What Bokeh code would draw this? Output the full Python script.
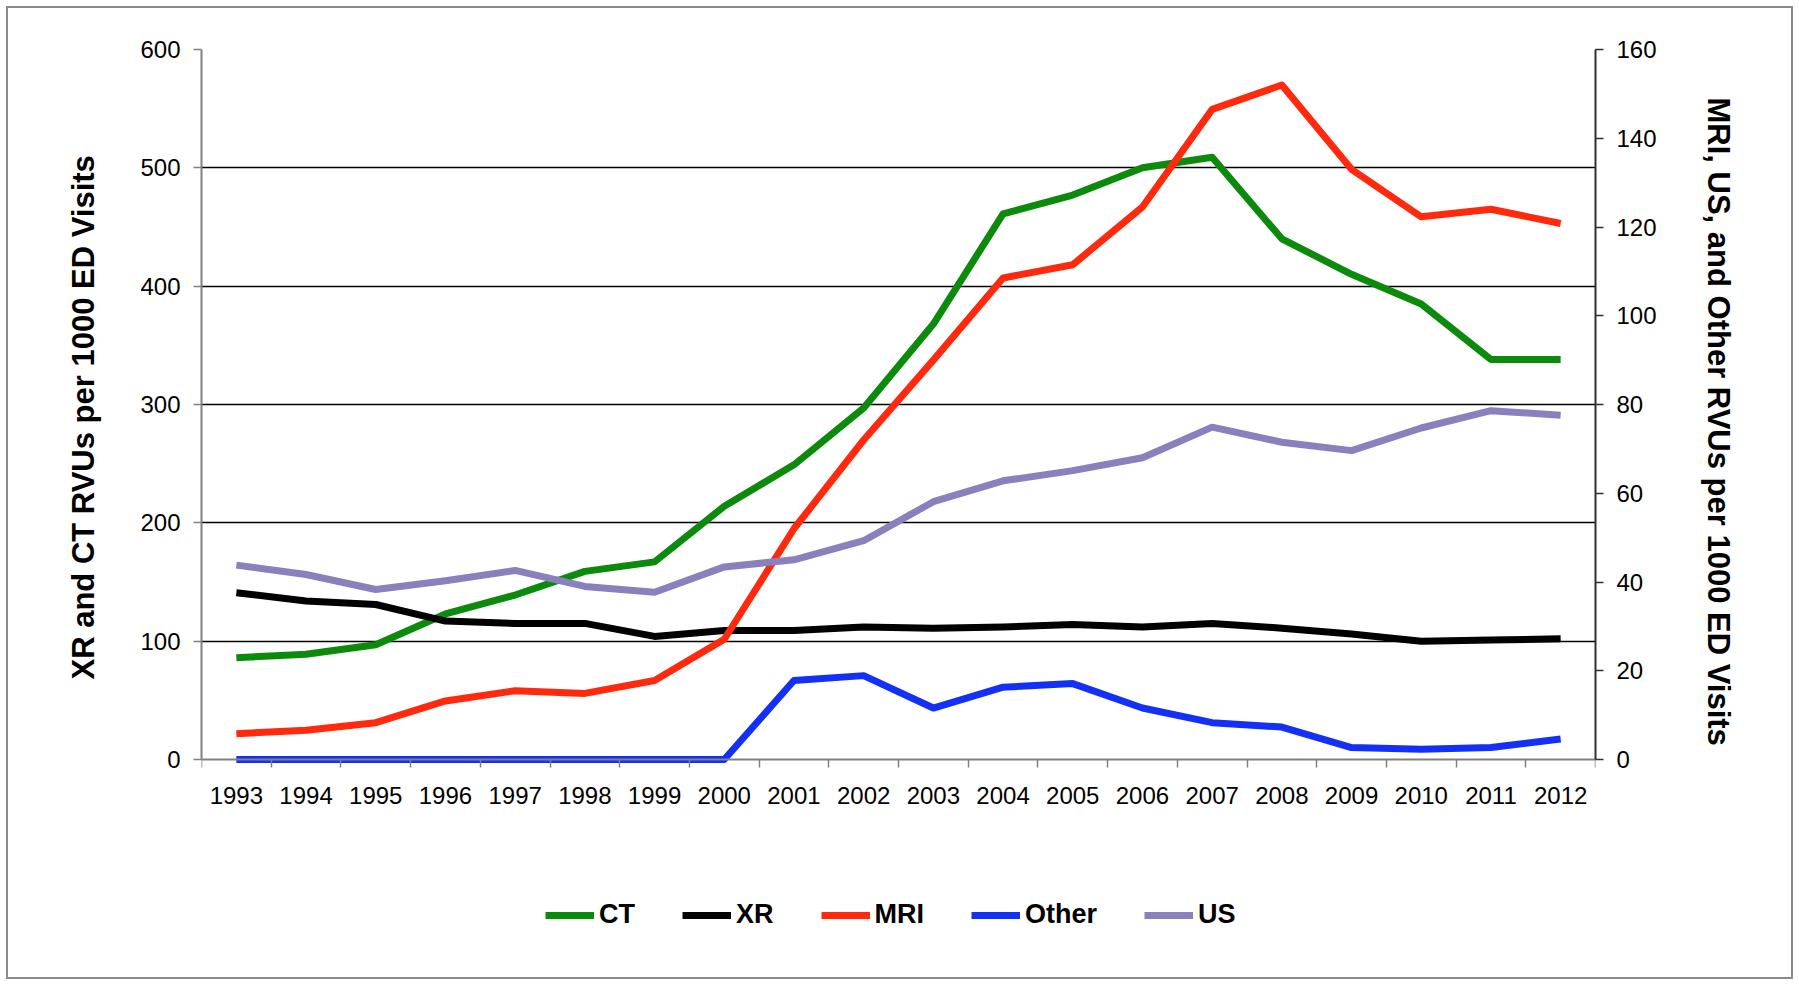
from bokeh.plotting import figure
from bokeh.models import Range1d, LinearAxis, FixedTicker, Legend, LegendItem, Title
from bokeh.embed import file_html
from bokeh.resources import INLINE

# ---- data ----
years = list(range(1993, 2013))
ct = [86, 89, 97, 123, 139, 159, 167, 214, 249, 297, 368, 461, 477, 500, 509, 440, 410, 385, 338, 338]
xr = [141, 134, 131, 117, 115, 115, 104, 109, 109, 112, 111, 112, 114, 112, 115, 111, 106, 100, 101, 102]
mri = [5.8, 6.6, 8.3, 13.2, 15.5, 14.9, 17.8, 27.1, 52.0, 72.0, 90.0, 108.5, 111.5, 124.5, 146.5, 152.0, 133.0, 122.3, 124.0, 120.8]
other = [0, 0, 0, 0, 0, 0, 0, 0, 17.8, 18.9, 11.6, 16.3, 17.1, 11.6, 8.3, 7.3, 2.7, 2.3, 2.7, 4.6]
us = [43.8, 41.7, 38.3, 40.3, 42.6, 39.0, 37.7, 43.4, 45.0, 49.3, 58.1, 62.8, 65.1, 68.0, 74.9, 71.5, 69.6, 74.7, 78.6, 77.6]
left_ticks = [0, 100, 200, 300, 400, 500, 600]
right_ticks = [0, 20, 40, 60, 80, 100, 120, 140, 160]
left_title = "XR and CT RVUs per 1000 ED Visits"
right_title = "MRI, US, and Other RVUs per 1000 ED Visits"

FONT = "Liberation Sans, Arial, sans-serif"

# ---- layout (figure pixels) ----
W, H = 1783, 969
FRAME_TOP, ZERO_Y, FRAME_BOTTOM = 41, 751, 947
# the frame continues below the value axis so the legend can sit inside it
ext = (FRAME_BOTTOM - FRAME_TOP) / (ZERO_Y - FRAME_TOP)
lmax, rmax = left_ticks[-1], right_ticks[-1]

p = figure(width=W, height=H,
           x_range=Range1d(years[0] - 0.5, years[-1] + 0.5),
           y_range=Range1d(lmax - lmax * ext, lmax),
           output_backend="svg", toolbar_location=None,
           min_border_left=193, min_border_right=196,
           min_border_top=FRAME_TOP, min_border_bottom=H - FRAME_BOTTOM,
           background_fill_color="white", border_fill_color="white",
           outline_line_color=None,
           styles={"margin": "8px", "outline": "2px solid #8a8a8a"})

p.extra_y_ranges = {"right": Range1d(rmax - rmax * ext, rmax)}

# grid
p.xgrid.visible = False
p.ygrid.ticker = FixedTicker(ticks=left_ticks[1:])
p.ygrid.grid_line_color = "black"
p.ygrid.grid_line_width = 1.6

# x axis (drawn at value 0)
xa = p.xaxis[0]
xa.fixed_location = 0
xa.ticker = FixedTicker(ticks=years, minor_ticks=[y - 0.5 for y in years] + [years[-1] + 0.5])
xa.major_tick_line_color = None
xa.major_tick_out = 0
xa.major_tick_in = 0
xa.minor_tick_line_color = "#808080"
xa.minor_tick_line_width = 1.5
xa.minor_tick_out = 8
xa.minor_tick_in = 0
xa.axis_line_color = "#808080"
xa.axis_line_width = 2
xa.major_label_text_font = FONT
xa.major_label_text_font_size = "24px"
xa.major_label_text_color = "black"
xa.major_label_standoff = 19

# left axis
ya = p.yaxis[0]
ya.ticker = FixedTicker(ticks=left_ticks)
ya.bounds = (left_ticks[0], left_ticks[-1])
ya.axis_line_color = "#808080"
ya.axis_line_width = 2
ya.major_tick_line_color = "#808080"
ya.major_tick_line_width = 1.5
ya.major_tick_out = 8
ya.major_tick_in = 0
ya.minor_tick_line_color = None
ya.major_label_text_font = FONT
ya.major_label_text_font_size = "24px"
ya.major_label_text_color = "black"
ya.major_label_standoff = 13

# right axis
ra = LinearAxis(y_range_name="right", ticker=FixedTicker(ticks=right_ticks),
                bounds=(right_ticks[0], right_ticks[-1]))
ra.axis_line_color = "#303030"
ra.axis_line_width = 2
ra.major_tick_line_color = "#303030"
ra.major_tick_line_width = 1.5
ra.major_tick_out = 8
ra.major_tick_in = 0
ra.minor_tick_line_color = None
ra.major_label_text_font = FONT
ra.major_label_text_font_size = "24px"
ra.major_label_text_color = "black"
ra.major_label_standoff = 13
p.add_layout(ra, "right")

# axis titles
t_left = Title(text=left_title, align="left", offset=276, vertical_align="top", standoff=70,
               text_font=FONT, text_font_style="bold", text_font_size="31px", text_color="black")
p.add_layout(t_left, "left")
t_right = Title(text=right_title, align="left", offset=48, vertical_align="top", standoff=78,
                text_font=FONT, text_font_style="bold", text_font_size="31px", text_color="black")
p.add_layout(t_right, "right")

LW = 7
r_ct = p.line(years, ct, line_color="#0b8a0b", line_width=LW, line_join="round")
r_xr = p.line(years, xr, line_color="black", line_width=LW, line_join="round")
r_mri = p.line(years, mri, line_color="#ff2a0d", line_width=LW, line_join="round", y_range_name="right")
r_other = p.line(years, other, line_color="#1430f5", line_width=LW, line_join="round", y_range_name="right")
r_us = p.line(years, us, line_color="#8a80bd", line_width=LW, line_join="round", y_range_name="right")

legend = Legend(items=[LegendItem(label="CT", renderers=[r_ct]),
                       LegendItem(label="XR", renderers=[r_xr]),
                       LegendItem(label="MRI", renderers=[r_mri]),
                       LegendItem(label="Other", renderers=[r_other]),
                       LegendItem(label="US", renderers=[r_us])],
                orientation="horizontal", location=(344, 25),
                glyph_width=49, glyph_height=20, label_standoff=5, spacing=47,
                padding=10, margin=0,
                label_text_font=FONT, label_text_font_style="bold",
                label_text_font_size="27px", label_text_color="black",
                border_line_color=None, background_fill_alpha=0)
p.add_layout(legend)

open("out.html", "w").write(file_html(p, INLINE))
